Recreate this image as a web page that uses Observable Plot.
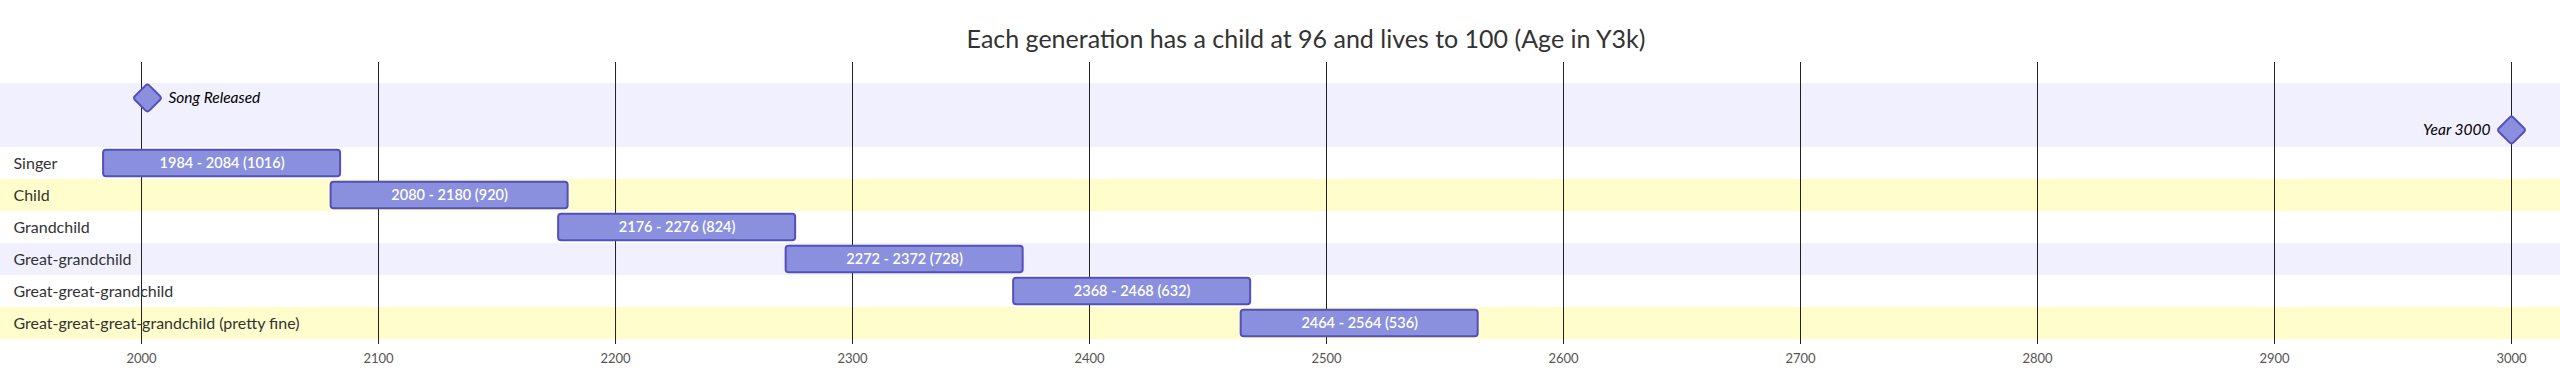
<!DOCTYPE html>
<html>
<head>
<meta charset="utf-8">
<script src="https://cdn.jsdelivr.net/npm/d3@7"></script>
<script src="https://cdn.jsdelivr.net/npm/@observablehq/plot@0.6"></script>
<style>
  html, body { margin: 0; padding: 0; background: #fff; }
  #title {
    box-sizing: border-box; width: 2560px; height: 62px;
    padding-top: 26px; padding-left: 52px;
    text-align: center; font: 25px/25px "Trebuchet MS", Lato, sans-serif; color: #333;
    white-space: nowrap;
  }
</style>
</head>
<body>
<div id="title"></div>
<div id="chart"></div>
<script>
// ---- data ----
const chartTitle = "Each generation has a child at 96 and lives to 100 (Age in Y3k)";
const generations = ["Singer", "Child", "Grandchild", "Great-grandchild", "Great-great-grandchild", "Great-great-great-grandchild (pretty fine)"];
const birthYears = [1984, 2080, 2176, 2272, 2368, 2464];
const deathYears = [2084, 2180, 2276, 2372, 2468, 2564];
const ageInY3k = [1016, 920, 824, 728, 632, 536];
const milestoneNames = ["Song Released", "Year 3000"];
const milestoneYears = [2002.5, 3000];
const tickYears = [2000, 2100, 2200, 2300, 2400, 2500, 2600, 2700, 2800, 2900, 3000];

// ---- styles ----
const sectionFills = ["rgb(240,240,255)", "#ffffff", "rgb(255,253,204)", "#ffffff"];
const barFill = "#8a90dd", barStroke = "#534fbc";
const FONT = '"Trebuchet MS", Lato, sans-serif';

document.getElementById("title").textContent = chartTitle;

const tasks = generations.map((name, i) => ({
  name, start: birthYears[i], end: deathYears[i], age: ageInY3k[i], section: (i + 1) % 4
}));
const milestones = milestoneNames.map((name, i) => ({name, year: milestoneYears[i], section: 0}));
const rows = [...milestones.map(m => ({id: m.name, section: m.section})), ...tasks.map(t => ({id: t.name, section: t.section}))];

const xMin = d3.min(birthYears), xMax = d3.max(milestoneYears);

const roundedDiamond = {
  draw(ctx, size) {
    const h = Math.sqrt(size) * 0.62625, t = 0.14;
    const P = [[0, -h], [h, 0], [0, h], [-h, 0]];
    const n = P.length;
    const lerp = (a, b, k) => [a[0] + (b[0] - a[0]) * k, a[1] + (b[1] - a[1]) * k];
    const s0 = lerp(P[0], P[n - 1], t);
    ctx.moveTo(s0[0], s0[1]);
    for (let i = 0; i < n; i++) {
      const V = P[i], N = P[(i + 1) % n], Pr = P[(i + n - 1) % n];
      const a = lerp(V, Pr, t), b = lerp(V, N, t);
      ctx.lineTo(a[0], a[1]);
      ctx.quadraticCurveTo(V[0], V[1], b[0], b[1]);
    }
    ctx.closePath();
  }
};

const chart = Plot.plot({
  width: 2560,
  height: 323,
  marginLeft: 0, marginRight: 0, marginTop: 0, marginBottom: 41,
  style: {fontFamily: FONT, background: "white", overflow: "visible"},
  x: {domain: [xMin, xMax], range: [103.1, 2511], axis: null},
  y: {type: "band", domain: rows.map(r => r.id), range: [19, 279], padding: 0, axis: null},
  marks: [
    ...sectionFills.map((fill, s) => Plot.cell(rows.filter(r => r.section === s), {y: "id", fill, inset: 0})),
    Plot.ruleX(tickYears, {stroke: "#222", strokeWidth: 1}),
    Plot.axisX(tickYears, {tickSize: 0, tickPadding: 9, fontSize: 13, fill: "#555", tickFormat: d => String(d)}),
    Plot.barX(tasks, {x1: "start", x2: "end", y: "name", fill: barFill, stroke: barStroke, strokeWidth: 2, rx: 3, insetTop: 2.8, insetBottom: 2.8}),
    Plot.text(tasks, {x: d => (d.start + d.end) / 2, y: "name", text: d => `${d.start} - ${d.end} (${d.age})`, fill: "white", fontSize: 14.5, fontWeight: 600}),
    Plot.text(tasks, {y: "name", text: "name", frameAnchor: "left", textAnchor: "start", dx: 13, fontSize: 16, fill: "#333"}),
    Plot.dot(milestones, {x: "year", y: "name", dy: -1.5, r: 13, symbol: roundedDiamond, fill: barFill, stroke: barStroke, strokeWidth: 2}),
    Plot.text(milestones.filter(m => m.year < xMax), {x: "year", y: "name", dy: -1.5, dx: 21, textAnchor: "start", text: "name", fontStyle: "italic", fontSize: 15.5, fill: "#000"}),
    Plot.text(milestones.filter(m => m.year >= xMax), {x: "year", y: "name", dy: -1.5, dx: -21, textAnchor: "end", text: "name", fontStyle: "italic", fontSize: 15.5, fill: "#000"})
  ]
});
document.getElementById("chart").appendChild(chart);
</script>
</body>
</html>
